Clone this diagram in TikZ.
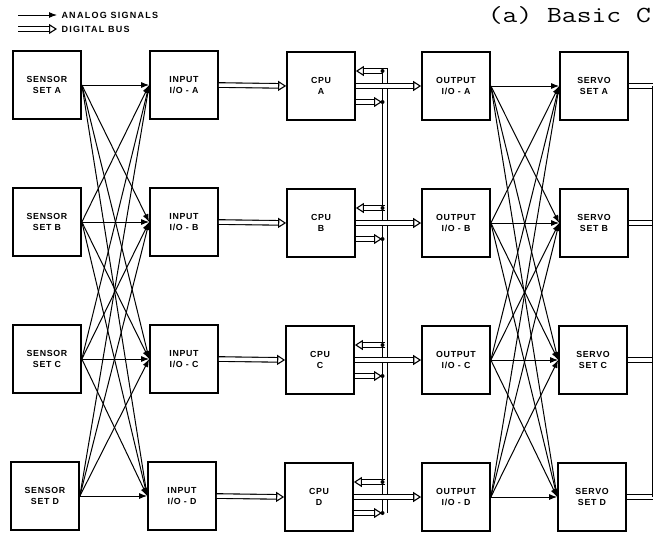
\documentclass[tikz,border=0pt]{standalone}
\usepackage{fontspec}
\usepackage{graphicx}
\newfontfamily\blockfont[LetterSpace=8]{Liberation Sans}
\newfontfamily\keyfont[LetterSpace=14]{Liberation Sans}
\usetikzlibrary{arrows.meta,calc}
\tikzset{
  block/.style={draw,line width=1.7pt,minimum width=68pt,minimum height=68pt,
    inner sep=0pt,align=center,font=\blockfont\bfseries\fontsize{8.8}{10.5}\selectfont},
  analog/.style={line width=1pt,-{Latex[length=8pt,width=6pt]}},
  busline/.style={double,double distance=3.5pt,line width=1.1pt},
  digital/.style={busline,-{Triangle[open,length=8pt,width=10pt]}},
  legendtext/.style={right,inner sep=4pt,font=\keyfont\bfseries\fontsize{9}{10}\selectfont},
}
\begin{document}
\begin{tikzpicture}[x=1pt,y=-1pt]
\useasboundingbox (0,0) rectangle (653,533);
\clip (0,0) rectangle (653,533);
% legend
\coordinate (anaL) at (18,15);
\coordinate (anaR) at (57,15);
\coordinate (digL) at (18,29);
\coordinate (digR) at (57,29);
\draw[analog] (anaL) -- (anaR) node[legendtext] {ANALOG SIGNALS};
\draw[digital] (digL) -- (digR) node[legendtext] {DIGITAL BUS};
% title
\node[anchor=base east,inner sep=0pt,font=\ttfamily\fontsize{23}{23}\selectfont]
  (title) at (651,22) {\scalebox{1.25}[1]{(a) Basic C}};
% sensors
\node[block] (sensA) at (47,85)  {SENSOR\\SET A};
\node[block] (sensB) at (47,222) {SENSOR\\SET B};
\node[block] (sensC) at (47,359) {SENSOR\\SET C};
\node[block] (sensD) at (45,496) {SENSOR\\SET D};
% input i/o
\node[block] (inA) at (184,85)  {INPUT\\I/O - A};
\node[block] (inB) at (184,222) {INPUT\\I/O - B};
\node[block] (inC) at (184,359) {INPUT\\I/O - C};
\node[block] (inD) at (182,496) {INPUT\\I/O - D};
% cpus
\node[block] (cpuA) at (321,86)  {CPU\\A};
\node[block] (cpuB) at (321,223) {CPU\\B};
\node[block] (cpuC) at (320,360) {CPU\\C};
\node[block] (cpuD) at (319,497) {CPU\\D};
% output i/o
\node[block] (outA) at (456,86)  {OUTPUT\\I/O - A};
\node[block] (outB) at (456,223) {OUTPUT\\I/O - B};
\node[block] (outC) at (456,360) {OUTPUT\\I/O - C};
\node[block] (outD) at (456,497) {OUTPUT\\I/O - D};
% servos
\node[block] (servA) at (594,86)  {SERVO\\SET A};
\node[block] (servB) at (594,223) {SERVO\\SET B};
\node[block] (servC) at (593,360) {SERVO\\SET C};
\node[block] (servD) at (592,497) {SERVO\\SET D};
% analog cross links
\foreach \s in {A,B,C,D}
  \foreach \t in {A,B,C,D} {
    \draw[analog] (sens\s.east) -- (in\t.west);
    \draw[analog] (out\s.east) -- (serv\t.west);
  }
% input -> cpu
\foreach \r in {A,B,C,D}
  \draw[digital] (in\r.east) -- (cpu\r.west);
% bus taps at each cpu
\coordinate (bus) at (385,0);
\foreach \r in {A,B,C,D} {
  \coordinate (up\r) at ($(cpu\r.east)+(0,-15)$);
  \coordinate (lo\r) at ($(cpu\r.east)+(0,16)$);
  \coordinate (upb\r) at (up\r -| bus);
  \coordinate (lob\r) at ($(lo\r -| bus)+(-3,0)$);
}
% cross-channel bus
\draw[digital] (loD -| bus) -- (upbA) -- (upA);
\foreach \r in {B,C,D}
  \draw[digital] (upb\r) -- (up\r);
\foreach \r in {A,B,C,D} {
  \draw[digital] (lo\r) -- (lob\r);
  \fill (upb\r) ++(-2.5,0) circle (2);
  \fill (lob\r) ++(0.5,0) circle (2);
}
% cpu -> output
\foreach \r in {A,B,C,D}
  \draw[digital] (cpu\r.east) -- (out\r.west);
% servo feedback lines
\foreach \r in {A,B,C,D}
  \draw[busline] (serv\r.east) -- ++(40,0);
\draw[busline] (655,86) -- (655,497);
\end{tikzpicture}
\end{document}
